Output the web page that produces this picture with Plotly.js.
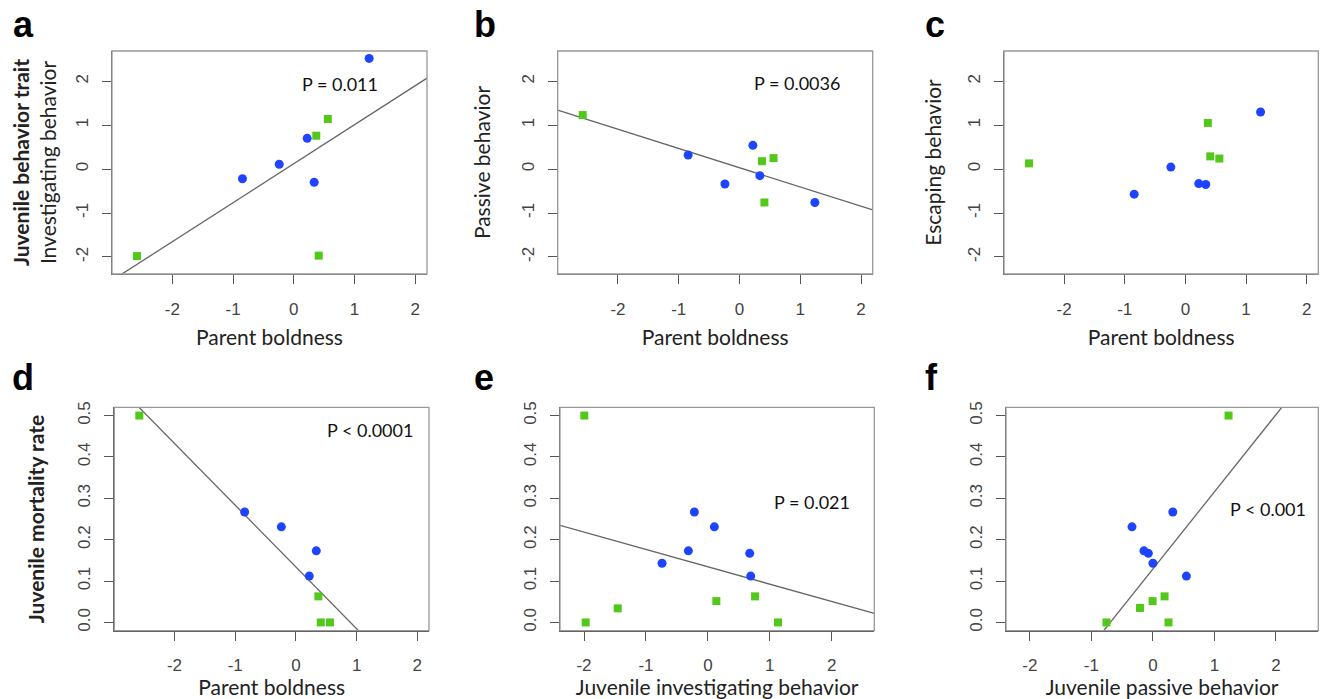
<!DOCTYPE html>
<html>
<head>
<meta charset="utf-8">
<script src="https://cdn.plot.ly/plotly-3.0.1.min.js"></script>
<style>html,body{margin:0;padding:0;background:#fff;}#chart{width:1320px;height:699px;}</style>
</head>
<body>
<div id="chart"></div>
<script>
// ---- data ----
const parentBlue = [-0.845, -0.24, 0.22, 0.335, 1.24];
const parentGreen = [-2.58, 0.37, 0.41, 0.56];

const investigBlue = [-0.22, 0.11, 0.70, -0.30, 2.52];
const investigGreen = [-1.98, 0.76, -1.97, 1.14];

const passiveBlue = [0.32, -0.34, 0.54, -0.15, -0.76];
const passiveGreen = [1.23, 0.18, -0.76, 0.25];

const escapeBlue = [-0.57, 0.045, -0.33, -0.35, 1.30];
const escapeGreen = [0.13, 1.05, 0.29, 0.24];

const dBlueX = [-0.845, -0.24, 0.22, 0.335];
const dBlueY = [0.267, 0.231, 0.112, 0.173];
const dGreenX = [-2.58, 0.37, 0.41, 0.56];
const dGreenY = [0.50, 0.063, 0.0, 0.0];

const eBlueX = [-0.74, -0.315, -0.218, 0.105, 0.676, 0.692];
const eBlueY = [0.143, 0.173, 0.267, 0.231, 0.167, 0.112];
const eGreenX = [-1.995, -1.973, -1.456, 0.137, 0.762, 1.133];
const eGreenY = [0.50, 0.0, 0.034, 0.0515, 0.063, 0.0];

const fBlueX = [0.0, -0.146, 0.323, -0.34, -0.075, 0.544];
const fBlueY = [0.143, 0.173, 0.267, 0.231, 0.167, 0.112];
const fGreenX = [1.229, -0.755, -0.21, -0.005, 0.189, 0.253];
const fGreenY = [0.50, 0.0, 0.035, 0.0515, 0.063, 0.0];

// fitted lines: [intercept, slope]
const fitA = [0.123, 0.888];
const fitB = [0.031, -0.4375];
const fitD = [0.134, -0.1493];
const fitE = [0.1345, -0.042];
const fitF = [0.1292, 0.1865];

const pLabels = ['P = 0.011', 'P = 0.0036', 'P < 0.0001', 'P = 0.021', 'P < 0.001'];
const panelLetters = ['a', 'b', 'c', 'd', 'e', 'f'];

const behavTicks = [-2, -1, 0, 1, 2];
const behavTickText = ['-2', '-1', '0', '1', '2'];
const mortTicks = [0, 0.1, 0.2, 0.3, 0.4, 0.5];
const mortTickText = ['0.0', '0.1', '0.2', '0.3', '0.4', '0.5'];

// ---- styling / layout ----
const W = 1320, H = 699;
const BLUE = '#1f44ff', GREEN = '#52c81a';
const behavRange = [-2.992, 2.192];
const juvRange = [-2.388, 2.688];
const mortRange = [-0.02, 0.52];

function pts(x, y, ax, blue) {
  return {
    x: x, y: y, xaxis: 'x' + ax, yaxis: 'y' + ax, type: 'scatter', mode: 'markers',
    marker: blue ? {symbol: 'circle', size: 9, color: BLUE} : {symbol: 'square', size: 8, color: GREEN},
    hoverinfo: 'x+y', showlegend: false, cliponaxis: false
  };
}
function fit(coef, range, ax) {
  return {
    x: range, y: range.map(v => coef[0] + coef[1] * v), xaxis: 'x' + ax, yaxis: 'y' + ax,
    type: 'scatter', mode: 'lines', line: {color: '#666', width: 1.3}, hoverinfo: 'skip', showlegend: false
  };
}

const data = [
  fit(fitA, behavRange, ''), pts(parentBlue, investigBlue, '', true), pts(parentGreen, investigGreen, '', false),
  fit(fitB, behavRange, '2'), pts(parentBlue, passiveBlue, '2', true), pts(parentGreen, passiveGreen, '2', false),
  pts(parentBlue, escapeBlue, '3', true), pts(parentGreen, escapeGreen, '3', false),
  fit(fitD, behavRange, '4'), pts(dBlueX, dBlueY, '4', true), pts(dGreenX, dGreenY, '4', false),
  fit(fitE, juvRange, '5'), pts(eBlueX, eBlueY, '5', true), pts(eGreenX, eGreenY, '5', false),
  fit(fitF, juvRange, '6'), pts(fBlueX, fBlueY, '6', true), pts(fGreenX, fGreenY, '6', false)
];

const titleFont = {family: 'Lato, Open Sans, sans-serif', size: 21, color: '#222'};
const tickFont = {family: 'Liberation Sans, Arial, sans-serif', size: 17, color: '#444'};

function xax(dom, range, title, standoff) {
  return {
    domain: dom.map(v => v / W), range: range, showgrid: false, zeroline: false,
    showline: true, linecolor: '#555', linewidth: 1.3, ticks: 'outside', ticklen: 9,
    tickcolor: '#555', tickwidth: 1.3, tickfont: tickFont, tickmode: 'array', ticklabelstandoff: 10,
    tickvals: behavTicks, ticktext: behavTickText, fixedrange: true,
    title: {text: title, font: titleFont, standoff: standoff}
  };
}
function yax(dom, range, vals, txt, anchor, title, standoff) {
  return {
    domain: [1 - dom[1] / H, 1 - dom[0] / H], range: range, anchor: anchor, showgrid: false, zeroline: false,
    showline: true, linecolor: '#555', linewidth: 1.3, ticks: 'outside', ticklen: 9,
    tickcolor: '#555', tickwidth: 1.3, tickfont: tickFont, tickangle: -90, tickmode: 'array', ticklabelstandoff: 7,
    tickvals: vals, ticktext: txt, fixedrange: true,
    title: {text: title, font: titleFont, standoff: standoff}
  };
}

const topRow = [51, 274], botRow = [407.3, 630.7];

const layout = {
  width: W, height: H, margin: {l: 0, r: 0, t: 0, b: 0}, paper_bgcolor: '#fff', plot_bgcolor: '#fff',
  showlegend: false, hovermode: 'closest',
  xaxis: Object.assign(xax([112, 427], behavRange, 'Parent boldness', 12), {anchor: 'y'}),
  yaxis: yax(topRow, juvRange, behavTicks, behavTickText, 'x', '<b>Juvenile behavior trait</b><br>Investigating behavior', 10),
  xaxis2: Object.assign(xax([557.7, 872.7], behavRange, 'Parent boldness', 12), {anchor: 'y2'}),
  yaxis2: yax(topRow, juvRange, behavTicks, behavTickText, 'x2', 'Passive behavior', 22),
  xaxis3: Object.assign(xax([1004, 1318.3], behavRange, 'Parent boldness', 12), {anchor: 'y3'}),
  yaxis3: yax(topRow, juvRange, behavTicks, behavTickText, 'x3', 'Escaping behavior', 17),
  xaxis4: Object.assign(xax([114.3, 429], behavRange, 'Parent boldness', 4), {anchor: 'y4'}),
  yaxis4: yax(botRow, mortRange, mortTicks, mortTickText, 'x4', '<b>Juvenile mortality rate</b>', 24),
  xaxis5: Object.assign(xax([560, 874.3], juvRange, 'Juvenile investigating behavior', 4), {anchor: 'y5'}),
  yaxis5: yax(botRow, mortRange, mortTicks, mortTickText, 'x5', '', 10),
  xaxis6: Object.assign(xax([1006, 1318.3], juvRange, 'Juvenile passive behavior', 4), {anchor: 'y6'}),
  yaxis6: yax(botRow, mortRange, mortTicks, mortTickText, 'x6', '', 10),
  shapes: ['', '2', '3', '4', '5', '6'].map(a => ({
    type: 'rect', xref: 'x' + a + ' domain', yref: 'y' + a + ' domain', x0: 0, x1: 1, y0: 0, y1: 1,
    line: {color: '#999', width: 1.3}, layer: 'above'
  })),
  annotations: []
};

const pFont = {family: 'Lato, Open Sans, sans-serif', size: 18, color: '#111'};
const pPos = [['', 0.753, 1.94], ['2', 0.94, 1.96], ['4', 1.22, 0.4646], ['5', 1.688, 0.29], ['6', 1.865, 0.2746]];
pPos.forEach((p, i) => layout.annotations.push({
  xref: 'x' + p[0], yref: 'y' + p[0], x: p[1], y: p[2], text: pLabels[i], showarrow: false,
  xanchor: 'center', yanchor: 'middle', font: pFont
}));

const letterPos = [[23, 24.5], [485, 24.5], [935, 24.5], [23, 377.5], [483.5, 377.5], [931.5, 377.5]];
letterPos.forEach((p, i) => layout.annotations.push({
  xref: 'paper', yref: 'paper', x: p[0] / W, y: 1 - p[1] / H, text: '<b>' + panelLetters[i] + '</b>',
  showarrow: false, xanchor: 'center', yanchor: 'middle',
  font: {family: 'Liberation Sans, Arial, sans-serif', size: 36, color: '#000'}
}));

Plotly.newPlot('chart', data, layout, {displayModeBar: false, staticPlot: false});
</script>
</body>
</html>
